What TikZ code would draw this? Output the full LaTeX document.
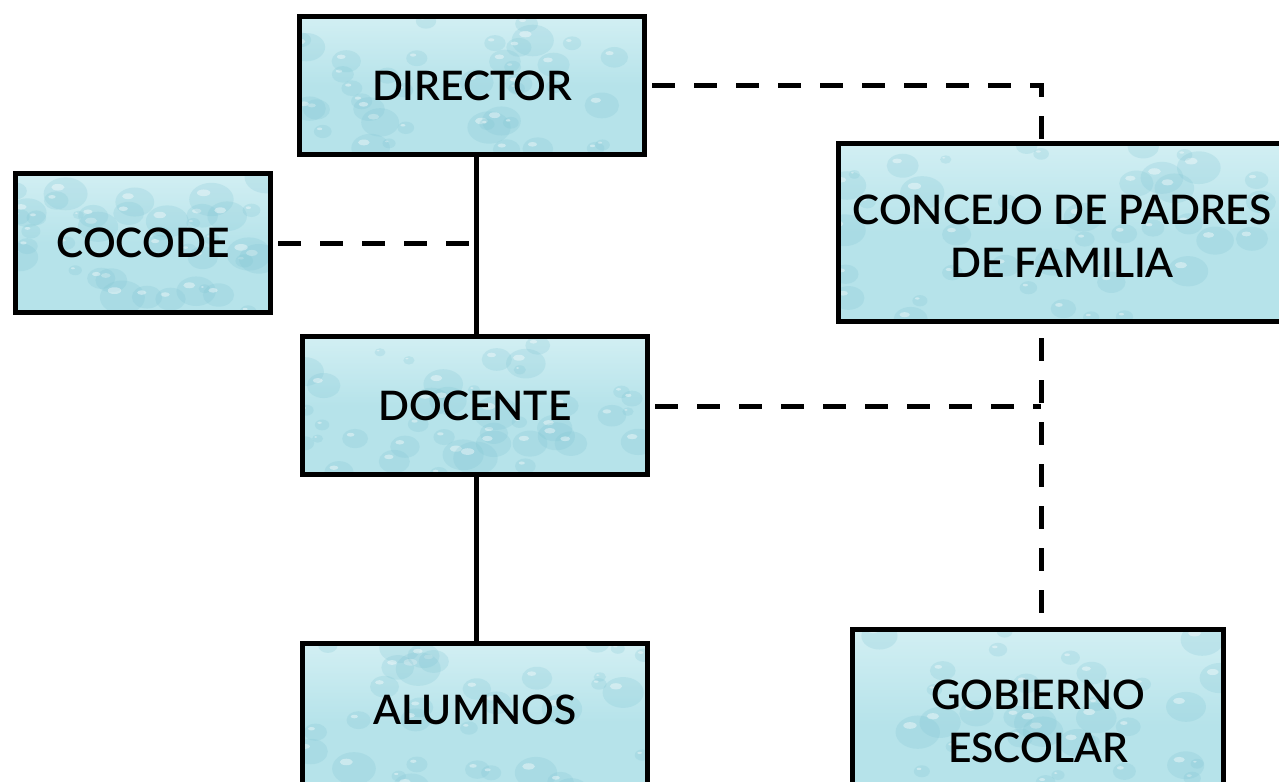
\documentclass[tikz,border=0pt]{standalone}
\usepackage{fontspec}
\setmainfont{Lato}
\newfontfamily\labelfont{Lato Semibold}
\usetikzlibrary{calc}
\definecolor{drop}{HTML}{B6E3EA}
\definecolor{dropdark}{HTML}{7CC3D2}
\definecolor{droplight}{HTML}{D2EFF3}
\pgfmathsetseed{11}
\tikzset{
  box/.style={draw=black, line width=3.75pt, inner sep=0pt,
    top color=droplight, bottom color=drop, middle color=drop,
    path picture={
      \path (path picture bounding box.south west) coordinate (pp sw)
            (path picture bounding box.north east) coordinate (pp ne);
      \path let \p1=(pp sw), \p2=(pp ne) in
        \pgfextra{\foreach \k in {1,...,40}{
          \pgfmathsetmacro\rx{rnd}\pgfmathsetmacro\ry{rnd}\pgfmathsetmacro\rr{4+13*rnd}
          \fill[dropdark, opacity=0.22]
            (\x1+\rx*\x2-\rx*\x1, \y1+\ry*\y2-\ry*\y1) ellipse[x radius=\rr pt, y radius=0.75*\rr pt];
          \fill[white, opacity=0.4]
            (\x1+\rx*\x2-\rx*\x1-0.35*\rr pt, \y1+\ry*\y2-\ry*\y1+0.3*\rr pt) ellipse[x radius=0.3*\rr pt, y radius=0.15*\rr pt];
        }};
    }},
  lbl/.style={font=\labelfont\fontsize{30.5}{40}\selectfont, align=center, inner sep=0pt},
  solidline/.style={line width=3.75pt},
  dashline/.style={line width=3.75pt, dash pattern=on 17.5pt off 14pt},
}
\begin{document}
\begin{tikzpicture}[x=0.75pt, y=-0.75pt]
\useasboundingbox (0,0) rectangle (1279,782);
\clip (0,0) rectangle (1279,782);
% boxes
\node[box, minimum width=258.75pt, minimum height=103.5pt] (director) at (472,85.5) {};
\node[lbl] (directort) at (472,85.5) {DIRECTOR};
\node[box, minimum width=191.25pt, minimum height=104.25pt] (cocode) at (143,243) {};
\node[lbl] (cocodet) at (143,243) {COCODE};
\node[box, minimum width=258.75pt, minimum height=103.5pt] (docente) at (475,405.5) {};
\node[lbl] (docentet) at (475,405.5) {DOCENTE};
\node[box, minimum width=258.75pt, minimum height=117.4pt] (alumnos) at (475,721.75) {};
\node[lbl] (alumnost) at (475,710) {ALUMNOS};
\node[box, minimum width=338.6pt, minimum height=133.5pt] (concejo) at (1064.25,232.5) {};
\node[lbl] (concejot) at (1062,236.5) {CONCEJO DE PADRES\\DE FAMILIA};
\node[box, minimum width=278.25pt, minimum height=142.9pt] (gobierno) at (1038,724.75) {};
\node[lbl] (gobiernot) at (1038,721.5) {GOBIERNO\\ESCOLAR};
% solid connectors
\draw[solidline] (director.south -| 476,0) -- (docente.north -| 476,0);
\draw[solidline] (docente.south -| 476,0) -- (alumnos.north -| 476,0);
% dashed connectors
\coordinate (cocodeend) at (473.5,243);
\draw[dashline] ($(cocode.east)+(5,0)$) -- (cocodeend);
\coordinate (dircorner) at (1041,85);
\draw[dashline] ($(director.east |- dircorner)+(5,0)$) -- (dircorner) -- (concejo.north -| dircorner);
\coordinate (doccorner) at (1041,406);
\draw[dashline] ($(docente.east |- doccorner)+(5,0)$) -- (doccorner);
\draw[dashline] ($(concejo.south -| doccorner)+(0,14)$) -- ($(gobierno.north -| doccorner)+(0,-14)$);
\end{tikzpicture}
\end{document}
